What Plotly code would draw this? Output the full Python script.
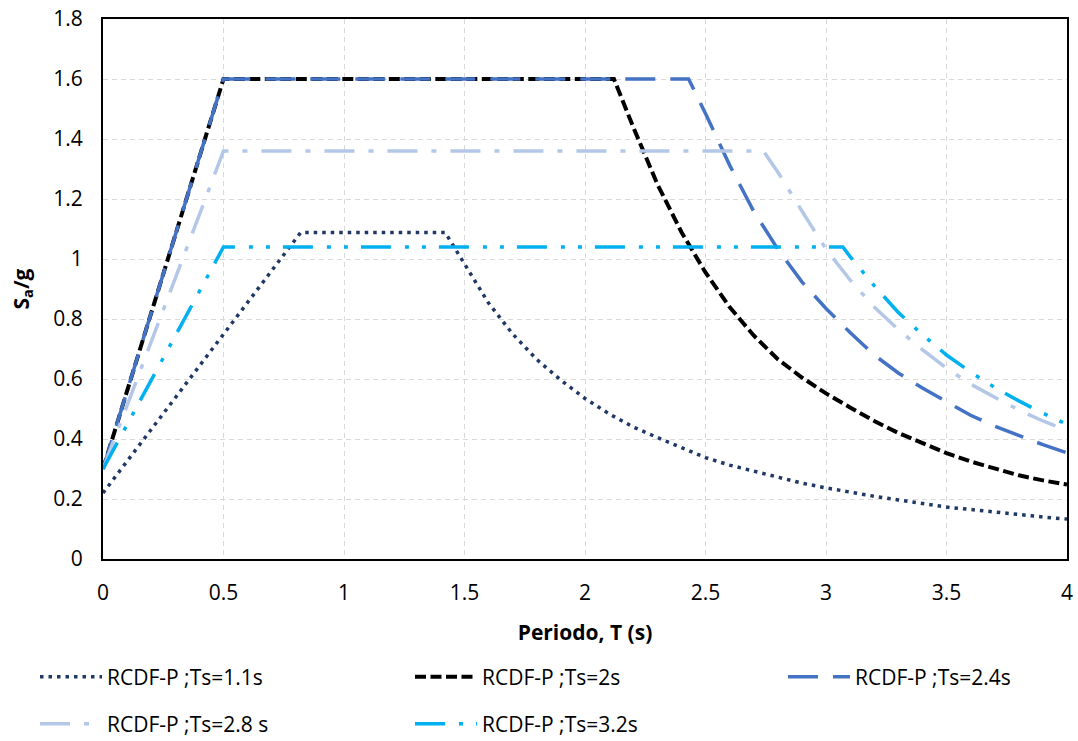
import plotly.graph_objects as go

# ---- data ----
T_11 = [0, 0.82, 1.42, 1.5, 1.6, 1.7, 1.8, 1.9, 2.0, 2.1, 2.2, 2.3, 2.4, 2.5, 2.6, 2.7,
        2.8, 2.9, 3.0, 3.1, 3.2, 3.3, 3.4, 3.5, 3.6, 3.7, 3.8, 3.9, 4.0]
Sa_11 = [0.22, 1.088, 1.088, 0.985, 0.853, 0.75, 0.665, 0.596, 0.535, 0.484, 0.44, 0.405,
         0.372, 0.338, 0.313, 0.292, 0.272, 0.253, 0.237, 0.222, 0.209, 0.197, 0.185,
         0.173, 0.165, 0.156, 0.148, 0.14, 0.133]

T_20 = [0, 0.5, 2.12, 2.2, 2.3, 2.4, 2.5, 2.6, 2.7, 2.8, 2.9, 3.0, 3.1, 3.2, 3.3, 3.4,
        3.5, 3.6, 3.7, 3.8, 3.9, 4.0]
Sa_20 = [0.3, 1.6, 1.6, 1.44, 1.25, 1.09, 0.955, 0.84, 0.745, 0.666, 0.605, 0.552, 0.505,
         0.46, 0.42, 0.385, 0.353, 0.325, 0.301, 0.279, 0.262, 0.248]

T_24 = [0, 0.5, 2.43, 2.5, 2.6, 2.7, 2.8, 2.9, 3.0, 3.1, 3.2, 3.3, 3.4, 3.5, 3.6, 3.7,
        3.8, 3.9, 4.0]
Sa_24 = [0.3, 1.6, 1.6, 1.485, 1.313, 1.159, 1.033, 0.924, 0.835, 0.755, 0.68, 0.62, 0.57,
         0.523, 0.479, 0.443, 0.412, 0.381, 0.354]

T_28 = [0, 0.5, 2.74, 2.8, 2.9, 3.0, 3.1, 3.2, 3.3, 3.4, 3.5, 3.6, 3.7, 3.8, 3.9, 4.0]
Sa_28 = [0.3, 1.36, 1.36, 1.29, 1.16, 1.033, 0.93, 0.84, 0.765, 0.698, 0.636, 0.583, 0.539,
         0.497, 0.46, 0.428]

T_32 = [0, 0.5, 3.07, 3.1, 3.2, 3.3, 3.4, 3.5, 3.6, 3.7, 3.8, 3.9, 4.0]
Sa_32 = [0.3, 1.04, 1.04, 1.008, 0.911, 0.822, 0.748, 0.68, 0.623, 0.572, 0.527, 0.486, 0.449]

series_names = ["RCDF-P ;Ts=1.1s", "RCDF-P ;Ts=2s", "RCDF-P ;Ts=2.4s",
                "RCDF-P ;Ts=2.8 s", "RCDF-P ;Ts=3.2s"]

x_ticks = [0, 0.5, 1, 1.5, 2, 2.5, 3, 3.5, 4]
x_tick_labels = ["0", "0.5", "1", "1.5", "2", "2.5", "3", "3.5", "4"]
y_ticks = [0, 0.2, 0.4, 0.6, 0.8, 1.0, 1.2, 1.4, 1.6, 1.8]
y_tick_labels = ["0", "0.2", "0.4", "0.6", "0.8", "1", "1.2", "1.4", "1.6", "1.8"]

# ---- styles ----
FONT = "Open Sans"
FS = 21
styles = [
    dict(color="#203864", width=3.5, dash="3.5px,5px"),
    dict(color="#000000", width=4, dash="11px,4.5px"),
    dict(color="#4472C4", width=3.5, dash="30px,15px"),
    dict(color="#B4C7E7", width=3.5, dash="30px,14px,5px,14px"),
    dict(color="#00B0F0", width=3.5, dash="30px,14px,4px,13px,4px,13px"),
]
legend_ids = ["legend", "legend2", "legend3", "legend4", "legend5"]
datasets = [(T_11, Sa_11), (T_20, Sa_20), (T_24, Sa_24), (T_28, Sa_28), (T_32, Sa_32)]

fig = go.Figure()
for (tx, sy), name, st, lg in zip(datasets, series_names, styles, legend_ids):
    fig.add_trace(go.Scatter(x=tx, y=sy, mode="lines", name=name, line=st, legend=lg))

W, H = 1078, 741
ml, mr, mt, mb = 103, 11, 19, 182
pw = W - ml - mr
ph = H - mt - mb

def px_to_paper_x(px):
    return (px - ml) / pw

def px_to_paper_y(py):
    return (H - mb - py) / ph

leg_common = dict(
    orientation="v", xanchor="left", yanchor="middle",
    font=dict(family=FONT, size=FS, color="#000000"),
    itemwidth=62, bgcolor="rgba(0,0,0,0)", borderwidth=0,
)
col_px = [35, 410, 783]
row_px = [677, 724]
positions = [(col_px[0], row_px[0]), (col_px[1], row_px[0]), (col_px[2], row_px[0]),
             (col_px[0], row_px[1]), (col_px[1], row_px[1])]
legend_layout = {}
for lg, (lx, ly) in zip(legend_ids, positions):
    legend_layout[lg] = dict(leg_common, x=px_to_paper_x(lx), y=px_to_paper_y(ly))

fig.update_layout(
    width=W, height=H,
    margin=dict(l=ml, r=mr, t=mt, b=mb, autoexpand=False),
    paper_bgcolor="white", plot_bgcolor="white",
    font=dict(family=FONT, size=FS, color="#000000"),
    showlegend=True,
    **legend_layout,
)

fig.update_xaxes(
    range=[0, 4], tickvals=x_ticks, ticktext=x_tick_labels,
    showgrid=True, gridcolor="#D9D9D9", gridwidth=1, griddash="5px,4px",
    showline=True, linecolor="#000000", linewidth=2, mirror=True,
    zeroline=False, ticks="", ticklabelstandoff=14,
    tickfont=dict(family=FONT, size=FS, color="#000000"),
    title=dict(text="<b>Periodo, T (s)</b>", standoff=20,
               font=dict(family=FONT, size=FS, color="#000000")),
)
fig.update_yaxes(
    range=[0, 1.8], tickvals=y_ticks, ticktext=y_tick_labels,
    showgrid=True, gridcolor="#D9D9D9", gridwidth=1, griddash="5px,4px",
    showline=True, linecolor="#000000", linewidth=2, mirror=True,
    zeroline=False, ticks="", ticklabelstandoff=14,
    tickfont=dict(family=FONT, size=FS, color="#000000"),
    title=dict(text="<b>S<sub>a</sub>/g</b>", standoff=18,
               font=dict(family=FONT, size=FS, color="#000000")),
)

fig.write_html(
    "out.html",
    config={"displayModeBar": False},
    post_script="document.body.style.margin='0';document.body.style.padding='0';",
)
